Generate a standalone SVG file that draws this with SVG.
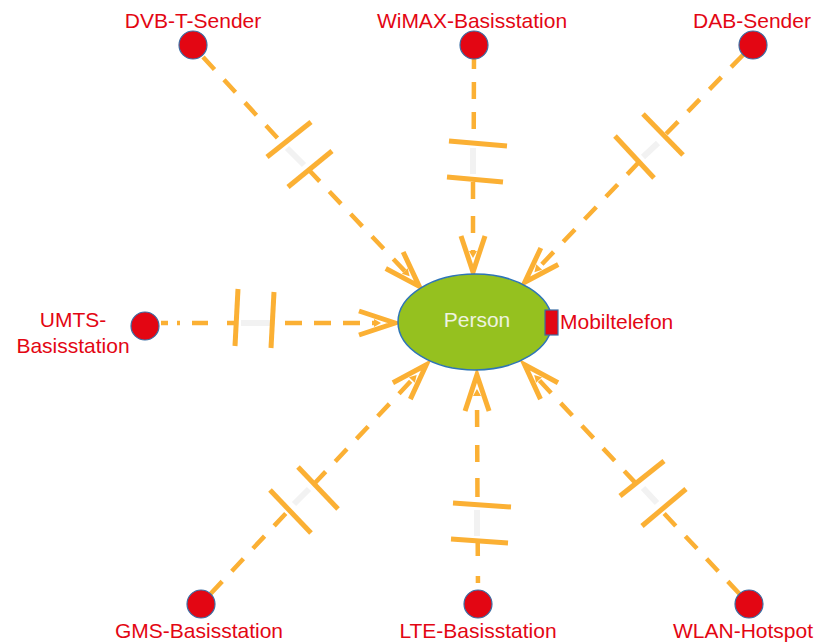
<svg xmlns="http://www.w3.org/2000/svg" width="819" height="643" viewBox="0 0 819 643">
<style>
.lbl{font-family:"Liberation Sans",Arial,sans-serif;font-size:21px;fill:#E30613}
.node{fill:#E30613;stroke:#3A6EA5;stroke-width:1.2}
.dash{fill:none;stroke:#FBB034;stroke-width:4.5;stroke-dasharray:17 14}
.bar{fill:none;stroke:#FBB034;stroke-width:5}
.gap{fill:none;stroke:#F2F2F2;stroke-width:6}
.arr{marker-end:url(#open)}
</style>
<defs>
<marker id="open" markerUnits="userSpaceOnUse" orient="auto" refX="0" refY="0" markerWidth="60" markerHeight="40" overflow="visible">
<path d="M-15,-12 L21,0 L-15,12" fill="none" stroke="#FBB034" stroke-width="5" stroke-linejoin="miter" stroke-dasharray="none"/>
<path d="M0,-4 L7,0 L0,4 Z" fill="#FBB034"/>
</marker>
</defs>
<rect width="819" height="643" fill="#FFFFFF"/>
<g id="connectors">
<!-- DVB-T -->
<path class="dash" d="M203,57 L283,144"/>
<path class="gap" d="M287,148 L304,165"/>
<path class="dash arr" d="M308,169 L404.8,271.1"/>
<path class="bar" d="M267,157 L311,122"/>
<path class="bar" d="M288,187 L332,151"/>
<!-- WiMAX -->
<path class="dash" d="M474,52 L473.7,143" style="stroke-dasharray:17 13"/>
<path class="gap" d="M473,148 L473,174"/>
<path class="dash arr" d="M473,182 L473,251" style="stroke-dasharray:17 17"/>
<path class="bar" d="M449,141 L507,146"/>
<path class="bar" d="M447,177 L503,182"/>
<!-- DAB -->
<path class="dash" d="M743,55 L664,136"/>
<path class="gap" d="M643,157 L658,143"/>
<path class="dash arr" d="M639,162 L539.2,267.1"/>
<path class="bar" d="M643,114 L683,155"/>
<path class="bar" d="M615,136 L654,178"/>
<!-- UMTS -->
<path class="dash" d="M161,323 L236,323" style="stroke-dasharray:7 9 3 12 16 19 9 10"/>
<path class="gap" d="M241,323 L270,323"/>
<path class="dash arr" d="M285,323 L374,323" style="stroke-dasharray:17 12"/>
<path class="bar" d="M238,289 L235,346"/>
<path class="bar" d="M274,292 L271,348"/>
<!-- GMS -->
<path class="dash" d="M210.6,593.8 L289,510"/>
<path class="gap" d="M294,504 L309,489"/>
<path class="dash arr" d="M314,484 L411.9,380"/>
<path class="bar" d="M270,490 L311,533"/>
<path class="bar" d="M298,467 L338,509"/>
<!-- LTE -->
<path class="dash" d="M478,590 L477.7,541" style="stroke-dasharray:0 7 7 20 15 14"/>
<path class="gap" d="M477,510 L477,536"/>
<path class="dash arr" d="M477.5,505 L477,396" style="stroke-dasharray:0 8 19 16 17 18 17 20"/>
<path class="bar" d="M453,503 L511,507"/>
<path class="bar" d="M451,539 L508,543"/>
<!-- WLAN -->
<path class="dash" d="M739.4,593.8 L660.9,510.1"/>
<path class="gap" d="M643,488 L657,503"/>
<path class="dash arr" d="M635.9,483.4 L539,380"/>
<path class="bar" d="M620,496 L664,461"/>
<path class="bar" d="M642,526 L686,489"/>
</g>
<g id="person">
<ellipse cx="475" cy="322" rx="77" ry="48" fill="#95C11F" stroke="#2E75B6" stroke-width="1.5"/>
<text x="477" y="327" text-anchor="middle" style="font-family:'Liberation Sans',Arial,sans-serif;font-size:21px;fill:#EEF3E0">Person</text>
</g>
<g id="mobiltelefon">
<rect x="545" y="310" width="13" height="25" fill="#E30613" stroke="#3A6EA5" stroke-width="1.2"/>
<text class="lbl" x="560" y="329">Mobiltelefon</text>
</g>
<g id="dvbt">
<circle class="node" cx="193" cy="45" r="14"/>
<text class="lbl" x="193" y="28" text-anchor="middle">DVB-T-Sender</text>
</g>
<g id="wimax">
<circle class="node" cx="474" cy="45" r="14"/>
<text class="lbl" x="472" y="28" text-anchor="middle">WiMAX-Basisstation</text>
</g>
<g id="dab">
<circle class="node" cx="753" cy="45" r="14"/>
<text class="lbl" x="752" y="28" text-anchor="middle">DAB-Sender</text>
</g>
<g id="umts">
<circle class="node" cx="145" cy="326" r="14"/>
<text class="lbl" x="73" y="327" text-anchor="middle">UMTS-</text>
<text class="lbl" x="73" y="353" text-anchor="middle">Basisstation</text>
</g>
<g id="gms">
<circle class="node" cx="201" cy="604" r="14"/>
<text class="lbl" x="199" y="638" text-anchor="middle">GMS-Basisstation</text>
</g>
<g id="lte">
<circle class="node" cx="478" cy="604" r="14"/>
<text class="lbl" x="478" y="638" text-anchor="middle">LTE-Basisstation</text>
</g>
<g id="wlan">
<circle class="node" cx="749" cy="604" r="14"/>
<text class="lbl" x="743" y="638" text-anchor="middle">WLAN-Hotspot</text>
</g>
</svg>
